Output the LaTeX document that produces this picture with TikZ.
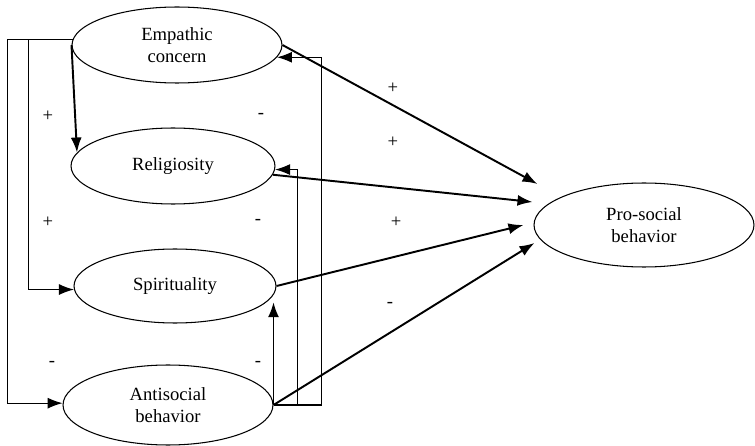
\documentclass[tikz,border=0pt]{standalone}
\usepackage{fontspec}
\setmainfont{Liberation Serif}
\usepackage{tikz}
\usetikzlibrary{shapes.geometric,arrows.meta}

\tikzset{
  var/.style={draw, ellipse, line width=0.6pt, inner sep=0pt, align=center,
    font=\fontsize{10.6}{12.5}\selectfont},
  sign/.style={font=\fontsize{10.6}{12.5}\selectfont, inner sep=0pt},
  arr/.style={line width=1.1pt, -{Latex[length=0.3cm,width=0.22cm]}},
  link/.style={line width=0.7pt},
}

\begin{document}
\begin{tikzpicture}[x=0.02cm, y=-0.02cm]
  \useasboundingbox (0,0) rectangle (755,446);
  % constructs
  \node[var, minimum width=4.2cm, minimum height=1.52cm] (emp) at (177,45) {Empathic\\concern};
  \node[var, minimum width=4.08cm, minimum height=1.52cm] (rel) at (173,166) {Religiosity};
  \node[var, minimum width=4.04cm, minimum height=1.48cm] (spir) at (175,286) {Spirituality};
  \node[var, minimum width=4.2cm, minimum height=1.6cm] (anti) at (168,405) {Antisocial\\behavior};
  \node[var, minimum width=4.4cm, minimum height=1.68cm] (pro) at (644,225) {Pro-social\\behavior};

  % left side links
  \draw[link, -{Latex[length=0.3cm,width=0.22cm]}] (emp.177) -- ++(-44,0) coordinate (jl) -- ++(-21,0) |- (anti.179);
  \draw[link, -{Latex[length=0.3cm,width=0.22cm]}] (jl) |- (spir.182);
  \draw[arr] (emp.west) -- (rel.172);

  % right side links
  \draw[link, -{Latex[length=0.3cm,width=0.22cm]}] (anti.east) -- ++(24,0) coordinate (jr) -- ++(24,0) |- (emp.-7.5);
  \draw[link, -{Latex[length=0.3cm,width=0.22cm]}] (jr) |- (rel.-2);
  \draw[arr] (anti.east) -- (anti.east |- spir.-10);

  % paths to pro-social behavior
  \draw[arr] (emp.east) -- ([shift={(4,-41)}]pro.west);
  \draw[arr] (rel.-5) -- ([shift={(-1,-23)}]pro.west);
  \draw[arr] (spir.east) -- ([shift={(-10,0)}]pro.west);
  \draw[arr] (anti.east) -- ([shift={(1,18)}]pro.west);

  % signs
  \node[sign] (s1) at (48,116) {+};
  \node[sign] (s2) at (261,116) {-};
  \node[sign] (s3) at (48,222) {+};
  \node[sign] (s4) at (258,222) {-};
  \node[sign] (s5) at (52,364) {-};
  \node[sign] (s6) at (258,364) {-};
  \node[sign] (s7) at (393,88) {+};
  \node[sign] (s8) at (393,142) {+};
  \node[sign] (s9) at (396,222) {+};
  \node[sign] (s10) at (390,305) {-};
\end{tikzpicture}
\end{document}
